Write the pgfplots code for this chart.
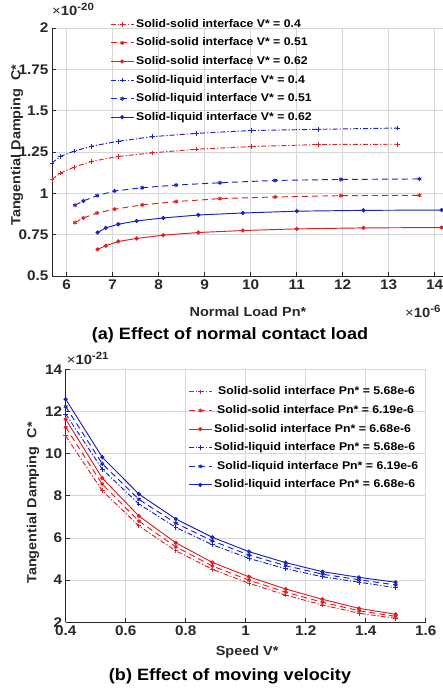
\documentclass[border=0pt]{standalone}
\usepackage{fontspec}
\setmainfont[FakeStretch=1.1]{Liberation Sans}
\usepackage{pgfplots}
\pgfplotsset{compat=1.18}

\definecolor{mred}{RGB}{222,32,36}
\definecolor{mblue}{RGB}{25,35,190}
\definecolor{axgray}{RGB}{40,40,40}
\definecolor{gridgray}{RGB}{214,214,214}

\pgfplotsset{
  mlab/.style={
    scale only axis,
    axis lines=left,
    axis line style={draw=axgray, line width=0.8pt, -},
    grid=major,
    major grid style={draw=gridgray, line width=0.6pt},
    tick align=inside,
    major tick length=4bp,
    tick style={draw=axgray, line width=0.6pt},
    scaled ticks=false,
    /pgf/number format/fixed,
    /pgf/number format/assume math mode=true,
    tick label style={font=\fontsize{14}{15}\selectfont\bfseries, text=axgray},
    label style={font=\fontsize{13.2}{14}\selectfont\bfseries, text=axgray},
    legend cell align=left,
    legend style={draw=none, fill=none, inner sep=0pt, row sep=8.6bp, column sep=2bp,
      font=\fontsize{11.2}{12}\selectfont\bfseries, text=black,
      nodes={inner sep=0pt, text height=8bp, text depth=2bp}},
    legend image code/.code={
      \draw[mark repeat=2, mark phase=2, #1]
        plot coordinates {(0bp,0bp) (11.5bp,0bp) (23bp,0bp)};},
  },
  sdd/.style={line width=0.95pt, dash pattern=on 5bp off 2bp on 1.2bp off 2bp,
    mark=+, mark size=2.3bp, mark options={solid}},
  sda/.style={line width=0.95pt, dash pattern=on 6bp off 4bp,
    mark=asterisk, mark size=2.1bp, mark options={solid}},
  sso/.style={line width=0.95pt, solid, mark=*, mark size=1.6bp},
}

\begin{document}
\begin{tikzpicture}
\path[use as bounding box] (0bp,0bp) rectangle (443bp,688bp);

% (a) normal contact load
\begin{axis}[mlab,
  at={(52bp,412bp)}, anchor=south west,
  width=391.9bp, height=248bp,
  xmin=5.68, xmax=14.2, ymin=0.5, ymax=2,
  xtick={6,7,8,9,10,11,12,13,14},
  ytick={0.5,0.75,1,1.25,1.5,1.75,2},
  xlabel={Normal Load Pn*},
  xlabel style={at={(axis description cs:0.5,0)}, anchor=center, yshift=-35.7bp},
  ylabel={Tangential Damping \ C*},
  ylabel style={at={(axis description cs:-0.0893,0.528)}, anchor=center},
  legend style={at={(rel axis cs:0.148,1.036)}, anchor=north west},
]
\addplot[mred, sdd] coordinates {(5.68,1.084) (5.86,1.122) (6.16,1.158) (6.54,1.193)
  (7.12,1.223) (7.87,1.245) (8.83,1.267) (10.02,1.283) (11.47,1.295) (13.20,1.297)};
\addlegendentry{Solid-solid interface V* = 0.4}
\addplot[mred, sda] coordinates {(6.18,0.823) (6.36,0.851) (6.66,0.881) (7.04,0.904)
  (7.64,0.930) (8.38,0.950) (9.33,0.968) (10.53,0.978) (11.96,0.986) (13.67,0.988)};
\addlegendentry{Solid-solid interface V* = 0.51}
\addplot[mred, sso] coordinates {(6.67,0.661) (6.85,0.683) (7.12,0.709) (7.52,0.727)
  (8.10,0.747) (8.86,0.763) (9.83,0.775) (11.00,0.785) (12.45,0.791) (14.15,0.793)};
\addlegendentry{Solid-solid interface V* = 0.62}
\addplot[mblue, sdd] coordinates {(5.68,1.183) (5.86,1.223) (6.16,1.255) (6.54,1.285)
  (7.12,1.315) (7.87,1.343) (8.83,1.363) (10.02,1.380) (11.47,1.387) (13.20,1.395)};
\addlegendentry{Solid-liquid interface V* = 0.4}
\addplot[mblue, sda] coordinates {(6.18,0.928) (6.36,0.954) (6.66,0.986) (7.04,1.014)
  (7.64,1.034) (8.38,1.050) (9.33,1.064) (10.53,1.078) (11.96,1.084) (13.67,1.087)};
\addlegendentry{Solid-liquid interface V* = 0.51}
\addplot[mblue, sso] coordinates {(6.67,0.763) (6.85,0.791) (7.12,0.813) (7.52,0.833)
  (8.10,0.851) (8.86,0.869) (9.83,0.881) (11.00,0.892) (12.45,0.897) (14.15,0.899)};
\addlegendentry{Solid-liquid interface V* = 0.62}
\end{axis}

% (b) moving velocity
\begin{axis}[mlab,
  at={(65.7bp,65.7bp)}, anchor=south west,
  width=360bp, height=253bp,
  xmin=0.4, xmax=1.6, ymin=2, ymax=14,
  xtick={0.4,0.6,0.8,1,1.2,1.4,1.6},
  ytick={2,4,6,8,10,12,14},
  xlabel={Speed V*},
  xlabel style={at={(axis description cs:0.504,0)}, anchor=center, yshift=-29.4bp},
  ylabel={Tangential Damping \ C*},
  ylabel style={at={(axis description cs:-0.0908,0.4715)}, anchor=center},
  legend style={at={(rel axis cs:0.34,0.931)}, anchor=north west},
]
\addplot[mred, sdd] coordinates {(0.400,10.84) (0.522,8.24) (0.644,6.57) (0.767,5.39)
  (0.889,4.51) (1.011,3.85) (1.133,3.29) (1.256,2.82) (1.378,2.43) (1.500,2.19)};
\addlegendentry{\hspace{4bp}Solid-solid interface Pn* = 5.68e-6}
\addplot[mred, sda] coordinates {(0.400,11.25) (0.522,8.55) (0.644,6.80) (0.767,5.58)
  (0.889,4.67) (1.011,4.00) (1.133,3.43) (1.256,2.95) (1.378,2.55) (1.500,2.28)};
\addlegendentry{\hspace{3bp}Solid-solid interface Pn* = 6.19e-6}
\addplot[mred, sso] coordinates {(0.400,11.63) (0.522,8.84) (0.644,7.04) (0.767,5.77)
  (0.889,4.84) (1.011,4.16) (1.133,3.58) (1.256,3.09) (1.378,2.66) (1.500,2.38)};
\addlegendentry{Solid-solid interface Pn* = 6.68e-6}
\addplot[mblue, sdd] coordinates {(0.400,11.88) (0.522,9.26) (0.644,7.61) (0.767,6.50)
  (0.889,5.68) (1.011,5.03) (1.133,4.54) (1.256,4.16) (1.378,3.90) (1.500,3.64)};
\addlegendentry{Solid-liquid interface Pn* = 5.68e-6}
\addplot[mblue, sda] coordinates {(0.400,12.23) (0.522,9.52) (0.644,7.83) (0.767,6.70)
  (0.889,5.86) (1.011,5.19) (1.133,4.69) (1.256,4.28) (1.378,4.02) (1.500,3.77)};
\addlegendentry{\hspace{3bp}Solid-liquid interface Pn* = 6.19e-6}
\addplot[mblue, sso] coordinates {(0.400,12.58) (0.522,9.83) (0.644,8.08) (0.767,6.90)
  (0.889,6.03) (1.011,5.35) (1.133,4.83) (1.256,4.40) (1.378,4.13) (1.500,3.90)};
\addlegendentry{Solid-liquid interface Pn* = 6.68e-6}
\end{axis}

% exponent labels
\node[anchor=base west, inner sep=0pt, text=axgray, font=\fontsize{13.5}{14}\selectfont]
  at (52bp,672bp) {×\textbf{10}\raisebox{5.5bp}{\fontsize{10.5}{11}\selectfont\bfseries -20}};
\node[anchor=base west, inner sep=0pt, text=axgray, font=\fontsize{13.5}{14}\selectfont]
  at (405bp,370bp) {×\textbf{10}\raisebox{5.5bp}{\fontsize{10.5}{11}\selectfont\bfseries -6}};
\node[anchor=base west, inner sep=0pt, text=axgray, font=\fontsize{13.5}{14}\selectfont]
  at (66.7bp,323bp) {×\textbf{10}\raisebox{5.5bp}{\fontsize{10.5}{11}\selectfont\bfseries -21}};

% captions
\node[anchor=center, font=\fontsize{16.5}{18}\selectfont\bfseries]
  at (230bp,353bp) {(a) Effect of normal contact load};
\node[anchor=center, font=\fontsize{16.5}{18}\selectfont\bfseries]
  at (230bp,11.3bp) {(b) Effect of moving velocity};
\end{tikzpicture}
\end{document}
